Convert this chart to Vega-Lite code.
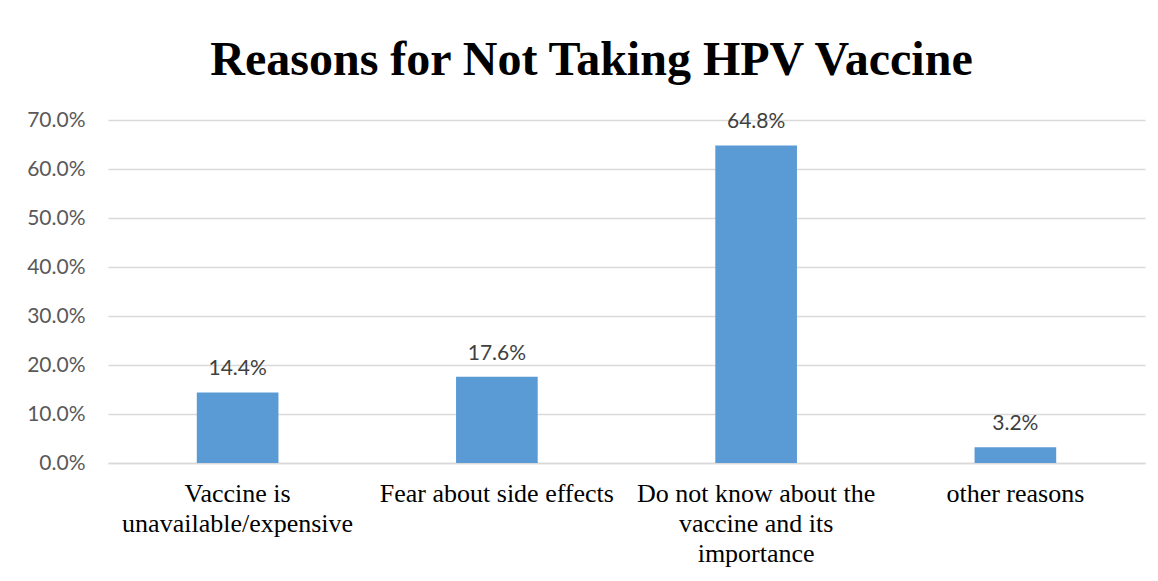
{
  "$schema": "https://vega.github.io/schema/vega-lite/v6.json",
  "autosize": {"type": "none"},
  "width": 1037,
  "height": 343,
  "padding": {"left": 108, "top": 120, "right": 13, "bottom": 118},
  "background": "white",
  "title": {
    "text": "Reasons for Not Taking HPV Vaccine",
    "font": "Liberation Serif",
    "fontSize": 48,
    "fontWeight": "bold",
    "color": "#000000",
    "anchor": "middle",
    "frame": "group",
    "baseline": "alphabetic",
    "offset": -14,
    "dx": -35
  },
  "data": {
    "values": [
      {"reason": "Vaccine is|unavailable/expensive", "pct": 0.144},
      {"reason": "Fear about side effects", "pct": 0.176},
      {"reason": "Do not know about the|vaccine and its|importance", "pct": 0.648},
      {"reason": "other reasons", "pct": 0.032}
    ]
  },
  "encoding": {
    "x": {
      "field": "reason",
      "type": "nominal",
      "sort": null,
      "scale": {"paddingInner": 0.685, "paddingOuter": 0.3425},
      "axis": {
        "title": null,
        "labelAngle": 0,
        "labelExpr": "split(datum.value, '|')",
        "labelFont": "Liberation Serif",
        "labelFontSize": 26,
        "labelColor": "#000000",
        "labelLineHeight": 30,
        "labelPadding": 17,
        "labelLimit": 300,
        "ticks": false,
        "domain": true,
        "domainColor": "#d9d9d9",
        "domainWidth": 1.5
      }
    },
    "y": {
      "field": "pct",
      "type": "quantitative",
      "scale": {"domain": [0, 0.7], "nice": false},
      "axis": {
        "title": null,
        "values": [0, 0.1, 0.2, 0.3, 0.4, 0.5, 0.6, 0.7],
        "format": ".1%",
        "labelFont": "Lato",
        "labelFontSize": 21,
        "labelColor": "#595959",
        "labelPadding": 23,
        "ticks": false,
        "domain": false,
        "grid": true,
        "gridColor": "#d9d9d9",
        "gridWidth": 1.5
      }
    }
  },
  "layer": [
    {"mark": {"type": "bar", "color": "#5b9bd5"}},
    {
      "mark": {"type": "text", "baseline": "bottom", "dy": -13, "font": "Lato", "fontSize": 21, "color": "#404040"},
      "encoding": {"text": {"field": "pct", "type": "quantitative", "format": ".1%"}}
    }
  ],
  "config": {"view": {"stroke": null}}
}
